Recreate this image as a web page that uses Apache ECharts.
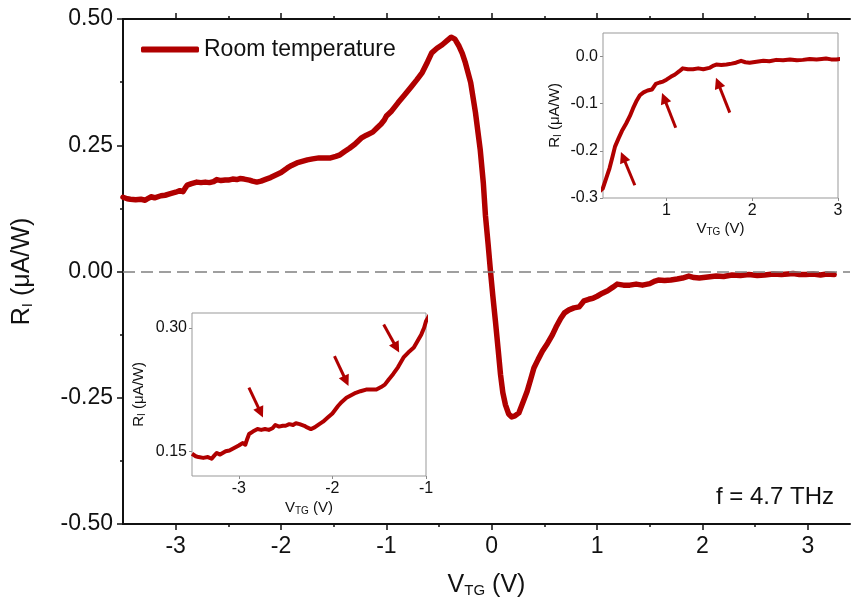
<!DOCTYPE html>
<html>
<head>
<meta charset="utf-8">
<script src="https://cdn.jsdelivr.net/npm/echarts@6/dist/echarts.min.js"></script>
<style>
html,body{margin:0;padding:0;background:#fff;}
#chart{width:851px;height:603px;}
</style>
</head>
<body>
<div id="chart"></div>
<script>
// ---- data ----
const vtg = [
-3.50,-3.46,-3.43,-3.38,-3.33,-3.29,-3.26,-3.235,-3.20,-3.14,-3.10,-3.05,-3.00,-2.96,-2.93,-2.91,-2.89,-2.85,-2.80,-2.76,
-2.72,-2.68,-2.64,-2.61,-2.57,-2.53,-2.50,-2.46,-2.42,-2.39,-2.35,-2.30,-2.27,-2.23,-2.19,-2.14,-2.10,-2.05,-2.00,-1.94,
-1.90,-1.85,-1.80,-1.75,-1.70,-1.64,-1.59,-1.53,-1.48,-1.44,-1.40,-1.35,-1.30,-1.24,-1.19,-1.13,-1.09,-1.05,-1.02,-1.00,
-0.95,-0.89,-0.83,-0.76,-0.71,-0.66,-0.61,-0.57,-0.52,-0.47,-0.43,-0.385,-0.35,-0.31,-0.28,-0.25,-0.20,-0.155,-0.11,-0.08,
-0.06,-0.035,-0.012,0.01,0.035,0.06,0.083,0.105,0.13,0.16,0.19,0.22,0.257,0.30,0.336,0.37,0.40,0.44,0.48,0.53,
0.574,0.61,0.654,0.69,0.733,0.78,0.83,0.876,0.92,0.96,1.00,1.05,1.10,1.15,1.19,1.25,1.31,1.37,1.43,1.50,
1.55,1.58,1.64,1.70,1.76,1.81,1.87,1.92,1.97,2.05,2.13,2.20,2.28,2.36,2.44,2.52,2.59,2.67,2.75,2.81,
2.86,2.92,2.98,3.05,3.12,3.18,3.25
];
const ri = [
0.147,0.144,0.143,0.142,0.143,0.141,0.145,0.148,0.146,0.150,0.151,0.154,0.157,0.160,0.158,0.165,0.171,0.174,0.177,0.176,
0.177,0.176,0.178,0.182,0.180,0.181,0.181,0.183,0.182,0.184,0.183,0.181,0.179,0.177,0.179,0.183,0.186,0.191,0.196,0.205,
0.210,0.215,0.218,0.221,0.223,0.225,0.225,0.225,0.228,0.231,0.237,0.244,0.252,0.264,0.270,0.276,0.284,0.292,0.300,0.308,
0.318,0.334,0.349,0.367,0.380,0.394,0.415,0.433,0.442,0.449,0.456,0.464,0.460,0.446,0.432,0.413,0.374,0.315,0.242,0.175,
0.111,0.055,0.000,-0.048,-0.099,-0.153,-0.204,-0.240,-0.264,-0.282,-0.288,-0.286,-0.280,-0.257,-0.237,-0.213,-0.191,-0.174,-0.158,-0.142,
-0.126,-0.110,-0.093,-0.082,-0.076,-0.072,-0.070,-0.058,-0.055,-0.053,-0.049,-0.043,-0.038,-0.031,-0.025,-0.027,-0.027,-0.025,-0.027,-0.024,
-0.019,-0.017,-0.018,-0.017,-0.015,-0.013,-0.009,-0.012,-0.013,-0.011,-0.009,-0.010,-0.007,-0.008,-0.006,-0.008,-0.007,-0.005,-0.006,-0.005,
-0.004,-0.006,-0.006,-0.005,-0.007,-0.005,-0.006
];
const mainXTicks = [-3,-2,-1,0,1,2,3];
const mainXMinor = [-2.5,-1.5,-0.5,0.5,1.5,2.5];
const mainYTicks = [-0.5,-0.25,0,0.25,0.5];
const mainYMinor = [-0.375,-0.125,0.125,0.375];
const insetRTicksX = [1,2,3];
const insetRTicksY = [-0.3,-0.2,-0.1,0.0];
const insetLTicksX = [-3,-2,-1];
const insetLTicksY = [0.15,0.30];
// arrows in inset data coordinates [x1,y1,x2,y2] (tail -> head)
const arrowsRight = [[0.631,-0.273,0.494,-0.213],[1.108,-0.151,0.972,-0.088],[1.738,-0.119,1.601,-0.056]];
const arrowsLeft = [[-2.892,0.2274,-2.767,0.1972],[-1.978,0.2656,-1.853,0.2354],[-1.452,0.304,-1.315,0.2758]];

const RED = '#B00000';
const FONT = '"Liberation Sans", Arial, sans-serif';
const pts = vtg.map((v,i)=>[v, ri[i]]);

function arrowLines(list){
  return list.map(a=>[{coord:[a[0],a[1]], symbol:'none'},{coord:[a[2],a[3]], symbol:'triangle'}]);
}

const chart = echarts.init(document.getElementById('chart'));
const subRich = (fs, sub) => ({ s: { fontSize: sub, fontFamily: FONT, color:'#111', padding:[Math.round(fs*0.45),0,0,0] } });

const option = {
  animation: false,
  backgroundColor: '#fff',
  textStyle: { fontFamily: FONT },
  legend: {
    data: ['Room temperature'],
    left: 141, top: 38, padding: 0,
    itemWidth: 58, itemHeight: 6, itemGap: 6,
    icon: 'roundRect',
    textStyle: { fontSize: 23, color: '#111', fontFamily: FONT, padding:[0,0,0,0] }
  },
  graphic: [
    { type: 'text', left: 716, top: 485, z: 100,
      style: { text: 'f = 4.7 THz', fontSize: 24, fill: '#111', fontFamily: FONT } }
  ],
  grid: [
    { left: 123, top: 19, right: 1, bottom: 76, containLabel: false },
    { left: 603, top: 33, right: 13, bottom: 405, show: true, borderColor: '#999', borderWidth: 1, backgroundColor: '#fff', z: 5 },
    { left: 192, top: 313, right: 425, bottom: 127, show: true, borderColor: '#999', borderWidth: 1, backgroundColor: '#fff', z: 5 }
  ],
  xAxis: [
    { gridIndex:0, type:'value', position:'bottom', min:-3.5, max:3.4,
      axisLine:{show:true, onZero:false, lineStyle:{color:'#111', width:2}},
      axisTick:{show:true, length:6, customValues: mainXTicks, lineStyle:{color:'#111', width:1.5}},
      axisLabel:{show:true, customValues: mainXTicks, fontSize:23, color:'#111', margin:11, formatter: v=>String(Math.round(v))},
      splitLine:{show:false},
      name:'V{s|TG} (V)', nameLocation:'middle', nameGap:48,
      nameTextStyle:{fontSize:25, color:'#111', fontFamily:FONT, rich: subRich(25,15)} },
    { gridIndex:0, type:'value', position:'bottom', min:-3.5, max:3.4,
      axisLine:{show:false, onZero:false}, axisLabel:{show:false}, splitLine:{show:false},
      axisTick:{show:true, length:3, customValues: mainXMinor, lineStyle:{color:'#111', width:1.5}} },
    { gridIndex:0, type:'value', position:'top', min:-3.5, max:3.4,
      axisLine:{show:true, onZero:false, lineStyle:{color:'#111', width:2}}, axisLabel:{show:false}, splitLine:{show:false},
      axisTick:{show:true, length:6, customValues: mainXTicks, lineStyle:{color:'#111', width:1.5}} },
    { gridIndex:0, type:'value', position:'top', min:-3.5, max:3.4,
      axisLine:{show:false, onZero:false}, axisLabel:{show:false}, splitLine:{show:false},
      axisTick:{show:true, length:3, customValues: mainXMinor, lineStyle:{color:'#111', width:1.5}} },
    // inset right
    { gridIndex:1, type:'value', min:0.26, max:3,
      axisLine:{show:false, onZero:false},
      axisTick:{show:true, length:3, customValues: insetRTicksX, lineStyle:{color:'#888'}},
      axisLabel:{show:true, customValues: insetRTicksX, fontSize:16, color:'#111', margin:5, formatter: v=>String(Math.round(v))},
      splitLine:{show:false},
      name:'V{s|TG} (V)', nameLocation:'middle', nameGap:22,
      nameTextStyle:{fontSize:15, color:'#111', fontFamily:FONT, rich: subRich(15,10)} },
    // inset left
    { gridIndex:2, type:'value', min:-3.5, max:-1,
      axisLine:{show:false, onZero:false},
      axisTick:{show:true, length:3, customValues: insetLTicksX, lineStyle:{color:'#888'}},
      axisLabel:{show:true, customValues: insetLTicksX, fontSize:16, color:'#111', margin:5, formatter: v=>String(Math.round(v))},
      splitLine:{show:false},
      name:'V{s|TG} (V)', nameLocation:'middle', nameGap:23,
      nameTextStyle:{fontSize:15, color:'#111', fontFamily:FONT, rich: subRich(15,10)} }
  ],
  yAxis: [
    { gridIndex:0, type:'value', position:'left', min:-0.5, max:0.5,
      axisLine:{show:true, onZero:false, lineStyle:{color:'#111', width:2}},
      axisTick:{show:true, length:6, customValues: mainYTicks, lineStyle:{color:'#111', width:1.5}},
      axisLabel:{show:true, customValues: mainYTicks, fontSize:23, color:'#111', margin:10, formatter: v=>v.toFixed(2)},
      splitLine:{show:false},
      name:'R{s|I} (μA/W)', nameLocation:'middle', nameGap:88, nameRotate:90,
      nameTextStyle:{fontSize:25, color:'#111', fontFamily:FONT, rich: subRich(25,15)} },
    { gridIndex:0, type:'value', position:'left', min:-0.5, max:0.5,
      axisLine:{show:false, onZero:false}, axisLabel:{show:false}, splitLine:{show:false},
      axisTick:{show:true, length:3, customValues: mainYMinor, lineStyle:{color:'#111', width:1.5}} },
    { gridIndex:1, type:'value', position:'left', min:-0.3, max:0.05,
      axisLine:{show:false, onZero:false},
      axisTick:{show:true, length:3, customValues: insetRTicksY, lineStyle:{color:'#888'}},
      axisLabel:{show:true, customValues: insetRTicksY, fontSize:16, color:'#111', margin:5, formatter: v=>v.toFixed(1)},
      splitLine:{show:false},
      name:'R{s|I} (μA/W)', nameLocation:'middle', nameGap:40, nameRotate:90,
      nameTextStyle:{fontSize:15, color:'#111', fontFamily:FONT, rich: subRich(15,10)} },
    { gridIndex:2, type:'value', position:'left', min:0.12, max:0.318,
      axisLine:{show:false, onZero:false},
      axisTick:{show:true, length:3, customValues: insetLTicksY, lineStyle:{color:'#888'}},
      axisLabel:{show:true, customValues: insetLTicksY, fontSize:16, color:'#111', margin:5, formatter: v=>v.toFixed(2)},
      splitLine:{show:false},
      name:'R{s|I} (μA/W)', nameLocation:'middle', nameGap:45, nameRotate:90,
      nameTextStyle:{fontSize:15, color:'#111', fontFamily:FONT, rich: subRich(15,10)} }
  ],
  series: [
    { name:'Room temperature', type:'line', xAxisIndex:0, yAxisIndex:0, data: pts,
      showSymbol:false, symbol:'none', smooth:false,
      lineStyle:{color:RED, width:5.5, join:'round', cap:'round'}, itemStyle:{color:RED}, z:3,
      markLine:{ silent:true, symbol:['none','none'], label:{show:false},
        lineStyle:{color:'#808080', width:1.5, type:[12,6]},
        data:[{yAxis:0}] } },
    { name:'inset-right', type:'line', xAxisIndex:4, yAxisIndex:2, data: pts, clip:true,
      showSymbol:false, symbol:'none', lineStyle:{color:RED, width:4, join:'round'}, z:6,
      markLine:{ silent:true, symbolSize:11, label:{show:false}, animation:false,
        lineStyle:{color:RED, width:3, type:'solid'}, data: arrowLines(arrowsRight) } },
    { name:'inset-left', type:'line', xAxisIndex:5, yAxisIndex:3, data: pts, clip:true,
      showSymbol:false, symbol:'none', lineStyle:{color:RED, width:4, join:'round'}, z:6,
      markLine:{ silent:true, symbolSize:11, label:{show:false}, animation:false,
        lineStyle:{color:RED, width:3, type:'solid'}, data: arrowLines(arrowsLeft) } }
  ]
};
chart.setOption(option);
</script>
</body>
</html>
